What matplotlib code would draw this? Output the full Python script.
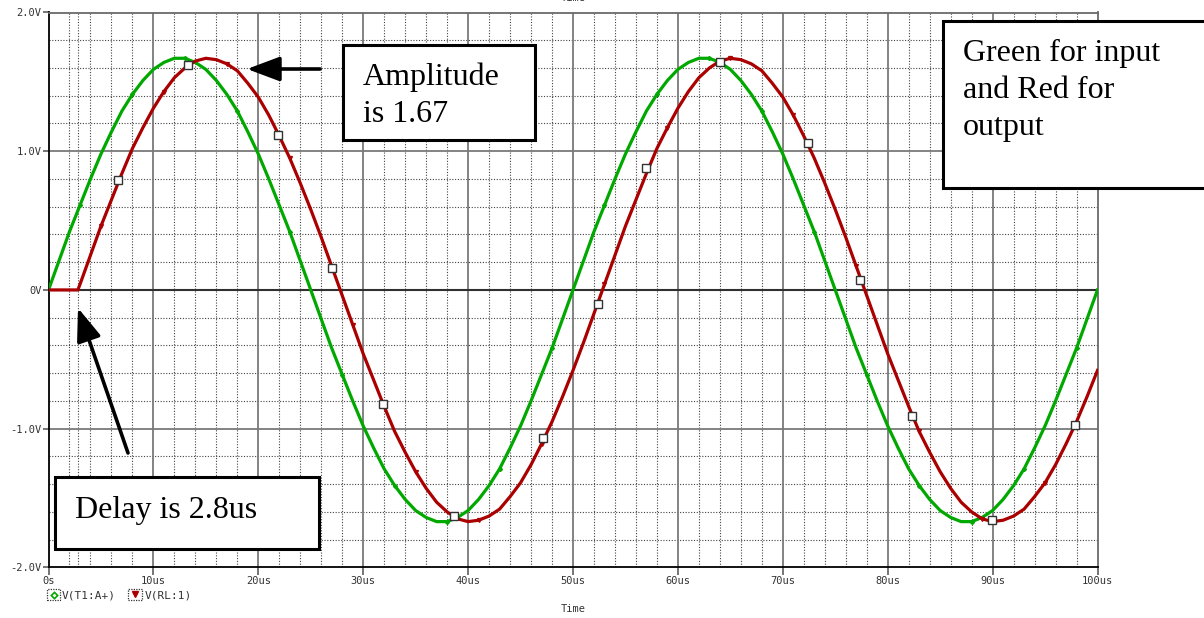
import matplotlib
matplotlib.use("Agg")
import matplotlib.pyplot as plt
from matplotlib.patches import Rectangle
from matplotlib.lines import Line2D

# ---------------- data ----------------
green_t = list(range(0, 101))
green_v = [
    0.00, 0.21, 0.42, 0.61, 0.80, 0.98, 1.14, 1.29, 1.41, 1.51, 1.59, 1.64, 1.67,
    1.67, 1.64, 1.59, 1.51, 1.41, 1.29, 1.14, 0.98, 0.80, 0.61, 0.42, 0.21,
    0.00, -0.21, -0.42, -0.61, -0.80, -0.98, -1.14, -1.29, -1.41, -1.51, -1.59, -1.64, -1.67,
    -1.67, -1.64, -1.59, -1.51, -1.41, -1.29, -1.14, -0.98, -0.80, -0.61, -0.42, -0.21,
    0.00, 0.21, 0.42, 0.61, 0.80, 0.98, 1.14, 1.29, 1.41, 1.51, 1.59, 1.64, 1.67,
    1.67, 1.64, 1.59, 1.51, 1.41, 1.29, 1.14, 0.98, 0.80, 0.61, 0.42, 0.21,
    0.00, -0.21, -0.42, -0.61, -0.80, -0.98, -1.14, -1.29, -1.41, -1.51, -1.59, -1.64, -1.67,
    -1.67, -1.64, -1.59, -1.51, -1.41, -1.29, -1.14, -0.98, -0.80, -0.61, -0.42, -0.21,
    0.00,
]

red_t = [0.0, 2.8] + list(range(3, 101))
red_v = [
    0.00, 0.00,
    0.04, 0.25, 0.46, 0.65, 0.84, 1.02, 1.17, 1.31, 1.43, 1.53, 1.60, 1.65, 1.67,
    1.66, 1.63, 1.58, 1.49, 1.39, 1.26, 1.11, 0.95, 0.77, 0.58, 0.38, 0.17,
    -0.04, -0.25, -0.46, -0.65, -0.84, -1.02, -1.17, -1.31, -1.43, -1.53, -1.60, -1.65, -1.67,
    -1.66, -1.63, -1.58, -1.49, -1.39, -1.26, -1.11, -0.95, -0.77, -0.58, -0.38, -0.17,
    0.04, 0.25, 0.46, 0.65, 0.84, 1.02, 1.17, 1.31, 1.43, 1.53, 1.60, 1.65, 1.67,
    1.66, 1.63, 1.58, 1.49, 1.39, 1.26, 1.11, 0.95, 0.77, 0.58, 0.38, 0.17,
    -0.04, -0.25, -0.46, -0.65, -0.84, -1.02, -1.17, -1.31, -1.43, -1.53, -1.60, -1.65, -1.67,
    -1.66, -1.63, -1.58, -1.49, -1.39, -1.26, -1.11, -0.95, -0.77, -0.58,
]

square_t = [6.6, 13.3, 21.9, 27.0, 31.9, 38.7, 47.1, 52.4, 57.0, 64.0, 72.4, 77.4, 82.3, 89.9, 97.9]
square_v = [0.79, 1.62, 1.12, 0.16, -0.82, -1.63, -1.07, -0.10, 0.88, 1.64, 1.06, 0.07, -0.91, -1.66, -0.97]

x_major = [0, 10, 20, 30, 40, 50, 60, 70, 80, 90, 100]
x_labels = ["0s", "10us", "20us", "30us", "40us", "50us", "60us", "70us", "80us", "90us", "100us"]
y_major = [-2, -1, 0, 1, 2]
y_labels = ["-2.0V", "-1.0V", "0V", "1.0V", "2.0V"]
legend_labels = ["V(T1:A+)", "V(RL:1)"]

GREEN = "#00a800"
RED = "#aa0000"
W, H = 1204, 618

def fx(x):
    return x / W

def fy(y):
    return 1 - y / H

fig = plt.figure(figsize=(W / 100, H / 100), dpi=100)
ax = fig.add_axes([fx(48.5), fy(567.4), (1097.5 - 48.5) / W, (567.4 - 12.5) / H])
ax.set_xlim(0, 100)
ax.set_ylim(-2, 2)

# grid
minor_x = [v for v in range(2, 100, 2) if v % 10 != 0] + [2.8]
minor_y = [round(-2 + 0.2 * i, 1) for i in range(21) if (i % 5) != 0]
for xv in minor_x:
    ax.axvline(xv, color="#444444", lw=0.8, ls=(0, (1, 1.5)), zorder=0)
for yv in minor_y:
    ax.axhline(yv, color="#444444", lw=0.8, ls=(0, (1, 1.5)), zorder=0)
for xv in x_major[1:-1]:
    ax.axvline(xv, color="#7a7a7a", lw=1.3, zorder=0.5)
for yv in [-1, 1]:
    ax.axhline(yv, color="#7a7a7a", lw=1.3, zorder=0.5)
ax.axhline(0, color="#303030", lw=1.5, zorder=0.6)

# traces
ax.plot(green_t, green_v, color=GREEN, lw=2.3, marker="D", ms=2.0, markevery=(3, 5), zorder=3)
ax.plot(red_t, red_v, color=RED, lw=2.3, marker="v", ms=2.8, markevery=(4, 6), zorder=3.2)
ax.plot(square_t, square_v, ls="none", marker="s", ms=5.5, mfc="white", mec="#333333",
        mew=1.0, zorder=4)

# spines / ticks
for s in ["left", "bottom"]:
    ax.spines[s].set_color("black")
    ax.spines[s].set_linewidth(1.3)
for s in ["top", "right"]:
    ax.spines[s].set_color("#6a6a6a")
    ax.spines[s].set_linewidth(1.3)
ax.set_xticks(x_major)
ax.set_xticklabels(x_labels)
ax.set_yticks(y_major)
ax.set_yticklabels(y_labels)
ax.tick_params(axis="x", length=6, width=1.3, color="#6a6a6a", pad=0.5,
               labelsize=7.5, labelcolor="#333333")
ax.tick_params(axis="y", length=4, width=1.3, color="#6a6a6a", pad=1,
               labelsize=7.5, labelcolor="#333333")
for lab in ax.get_xticklabels() + ax.get_yticklabels():
    lab.set_family("DejaVu Sans Mono")

# axis titles
fig.text(fx(573), fy(609), "Time", family="DejaVu Sans Mono", fontsize=7.5, color="#333333",
         ha="center", va="center")
fig.text(fx(573), fy(-2), "Time", family="DejaVu Sans Mono", fontsize=7.5, color="#333333",
         ha="center", va="center")

# legend
def legend_box(x0, x1, y0, y1):
    fig.add_artist(Rectangle((fx(x0), fy(y1)), (x1 - x0) / W, (y1 - y0) / H,
                             transform=fig.transFigure, fill=False, ec="#333333",
                             lw=0.9, ls=(0, (1, 1))))

legend_box(47, 60, 589, 600)
fig.add_artist(Line2D([fx(53.5)], [fy(594.5)], marker="D", ms=3.2, mfc="none", mec=GREEN,
                      mew=1.2, transform=fig.transFigure))
fig.text(fx(62), fy(595), legend_labels[0], family="DejaVu Sans Mono", fontsize=8,
         color="#333333", ha="left", va="center")
legend_box(128, 142, 589, 600)
fig.add_artist(Line2D([fx(135)], [fy(594)], marker="v", ms=4.5, mfc=RED, mec=RED,
                      transform=fig.transFigure))
fig.text(fx(145), fy(595), legend_labels[1], family="DejaVu Sans Mono", fontsize=8,
         color="#333333", ha="left", va="center")

# annotation boxes
def note_box(x0, y0, x1, y1):
    fig.add_artist(Rectangle((fx(x0), fy(y1)), (x1 - x0) / W, (y1 - y0) / H,
                             transform=fig.transFigure, fc="white", ec="black",
                             lw=2.2, zorder=10))

def note_text(x, yb, s):
    fig.text(fx(x), fy(yb), s, family="Liberation Serif", fontsize=23, color="black",
             ha="left", va="baseline", zorder=11)

note_box(343, 45, 535, 140)
note_text(363, 85, "Amplitude")
note_text(363, 122, "is 1.67")

note_box(54.5, 477, 319, 549)
note_text(75, 518, "Delay is 2.8us")

note_box(943, 21, 1215, 188)
note_text(963, 61, "Green for input")
note_text(963, 98, "and Red for")
note_text(963, 135, "output")

# arrows
arrow_kw = dict(arrowstyle="-|>,head_length=2.0,head_width=0.75", lw=2.6, color="black",
                shrinkA=0, shrinkB=0)
ax.annotate("", xy=(247, H - 69), xytext=(320, H - 69), xycoords="figure pixels",
            textcoords="figure pixels", arrowprops=arrow_kw, zorder=12)
ax.annotate("", xy=(78, H - 308), xytext=(128, H - 453), xycoords="figure pixels",
            textcoords="figure pixels", arrowprops=arrow_kw, zorder=12)

fig.savefig("out.png", dpi=100)
